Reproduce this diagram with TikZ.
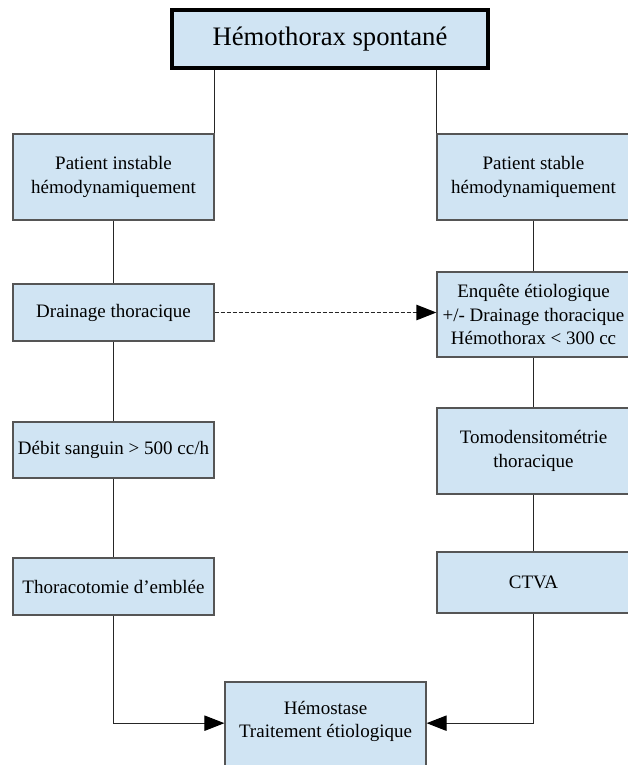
\documentclass[tikz,border=0pt]{standalone}
\usepackage{fontspec}
\setmainfont{Liberation Serif}
\usepackage{tikz}
\usetikzlibrary{arrows.meta}
\definecolor{boxblue}{RGB}{208,228,243}
\definecolor{edgegray}{RGB}{85,85,85}

\begin{document}
\begin{tikzpicture}[x=0.75pt,y=-0.75pt,
  box/.style={draw=edgegray,line width=0.9pt,fill=boxblue,align=center,
    inner sep=0pt,font=\fontsize{14.25}{17.5}\selectfont},
  link/.style={draw=black!85,line width=0.8pt},
  tip/.style={-{Triangle[length=15pt,width=11.5pt,color=black,fill=black]}}]
\useasboundingbox (0,0) rectangle (628,765);
\node[box,draw=black,line width=2.4pt,minimum width=316*0.75pt,minimum height=58*0.75pt,
  font=\fontsize{20}{24}\selectfont] (titre) at (330,39) {Hémothorax spontané};
% gauche
\node[box,minimum width=201*0.75pt,minimum height=86*0.75pt] (instable) at (113.5,177) {Patient instable\\hémodynamiquement};
\node[box,minimum width=201*0.75pt,minimum height=57*0.75pt] (drainage) at (113.5,312.5) {Drainage thoracique};
\node[box,minimum width=201*0.75pt,minimum height=56*0.75pt] (debit) at (113.5,450) {Débit sanguin > 500 cc/h};
\node[box,minimum width=201*0.75pt,minimum height=57*0.75pt] (thoraco) at (113.5,586.5) {Thoracotomie d’emblée};
% droite
\node[box,minimum width=193*0.75pt,minimum height=86*0.75pt] (stable) at (533.5,177) {Patient stable\\hémodynamiquement};
\node[box,minimum width=193*0.75pt,minimum height=85*0.75pt] (enquete) at (533.5,314.5) {Enquête étiologique\\+/- Drainage thoracique\\Hémothorax < 300 cc};
\node[box,minimum width=193*0.75pt,minimum height=86*0.75pt] (tomo) at (533.5,451) {Tomodensitométrie\\thoracique};
\node[box,minimum width=193*0.75pt,minimum height=61*0.75pt] (ctva) at (533.5,582.5) {CTVA};
% bas
\node[box,minimum width=201*0.75pt,minimum height=93*0.75pt,text depth=14pt] (hemostase) at (325.5,728.5) {Hémostase\\Traitement étiologique};

\draw[link] (titre.south -| instable.north east) -- (instable.north east);
\draw[link] (titre.south -| stable.north west) -- (stable.north west);
\draw[link] (instable) -- (drainage);
\draw[link] (drainage) -- (debit);
\draw[link] (debit) -- (thoraco);
\draw[link] (stable) -- (enquete);
\draw[link] (enquete) -- (tomo);
\draw[link] (tomo) -- (ctva);
\draw[link,tip] (thoraco.south) |- ([yshift=4pt]hemostase.west);
\draw[link,tip] (ctva.south) |- ([yshift=4pt]hemostase.east);
\draw[link,tip,line width=1.1pt,dash pattern=on 3pt off 1.5pt] (drainage.east) -- (drainage.east -| enquete.west);
\end{tikzpicture}
\end{document}
